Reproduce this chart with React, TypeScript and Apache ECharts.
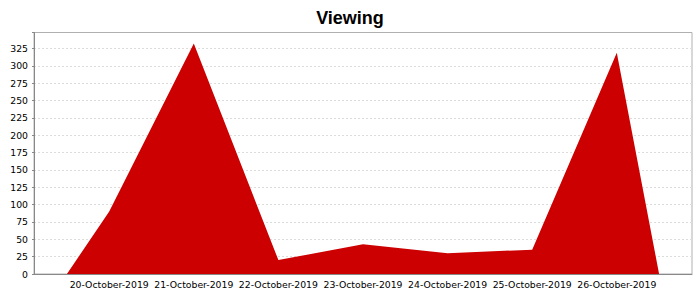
import React, { useEffect, useRef } from "react";
import * as echarts from "echarts";

const categories = [
  "20-October-2019",
  "21-October-2019",
  "22-October-2019",
  "23-October-2019",
  "24-October-2019",
  "25-October-2019",
  "26-October-2019",
];
const viewing = [90, 332, 20, 43, 30, 35, 319];
const yTickLabels = [0, 25, 50, 75, 100, 125, 150, 175, 200, 225, 250, 275, 300, 325];

export default function App() {
  const ref = useRef<HTMLDivElement>(null);
  useEffect(() => {
    if (!ref.current) return;
    const chart = echarts.init(ref.current, null, { renderer: "svg" });
    // JFreeChart-style area: drops to zero half a category beyond the ends
    const pts: [number, number][] = [[-0.5, 0]];
    viewing.forEach((v, i) => pts.push([i, v]));
    pts.push([categories.length - 0.5, 0]);
    const font = "DejaVu Sans";
    chart.setOption({
      animation: false,
      backgroundColor: "#ffffff",
      title: {
        text: "Viewing",
        left: "center",
        top: 4,
        textStyle: {
          fontFamily: "Liberation Sans",
          fontSize: 18,
          fontWeight: "bold",
          color: "#000000",
        },
      },
      grid: {
        left: 34,
        right: 8,
        top: 32.5,
        bottom: 26,
        show: true,
        borderColor: "#b0b0b0",
        borderWidth: 1,
        backgroundColor: "#ffffff",
      },
      xAxis: {
        type: "value",
        min: -0.889,
        max: categories.length - 1 + 0.889,
        axisLine: { show: true, onZero: false, lineStyle: { color: "#888888" } },
        axisTick: { show: false },
        splitLine: { show: false },
        axisLabel: {
          customValues: categories.map((_, i) => i),
          formatter: (v: number) => categories[Math.round(v)] ?? "",
          fontFamily: font,
          fontSize: 9.3,
          color: "#000000",
          margin: 6,
        },
      },
      yAxis: {
        type: "value",
        min: 0,
        max: 348,
        interval: 25,
        axisLine: { show: true, onZero: false, lineStyle: { color: "#888888" } },
        axisTick: { show: true, length: 2, lineStyle: { color: "#888888" } },
        splitLine: {
          show: true,
          showMinLine: false,
          showMaxLine: false,
          lineStyle: { color: "#dcdcdc", type: [2, 2], width: 1 },
        },
        axisLabel: {
          customValues: yTickLabels,
          formatter: (v: number) => String(v),
          fontFamily: font,
          fontSize: 9.3,
          color: "#000000",
          margin: 6,
        },
      },
      series: [
        {
          type: "line",
          name: "Viewing",
          data: pts,
          symbol: "none",
          lineStyle: { width: 0 },
          areaStyle: { color: "#cc0000", opacity: 1 },
          itemStyle: { color: "#cc0000" },
        },
      ],
    });
    return () => chart.dispose();
  }, []);
  return (
    <div
      ref={ref}
      style={{ position: "fixed", left: 0, top: 0, width: 700, height: 300 }}
    />
  );
}
